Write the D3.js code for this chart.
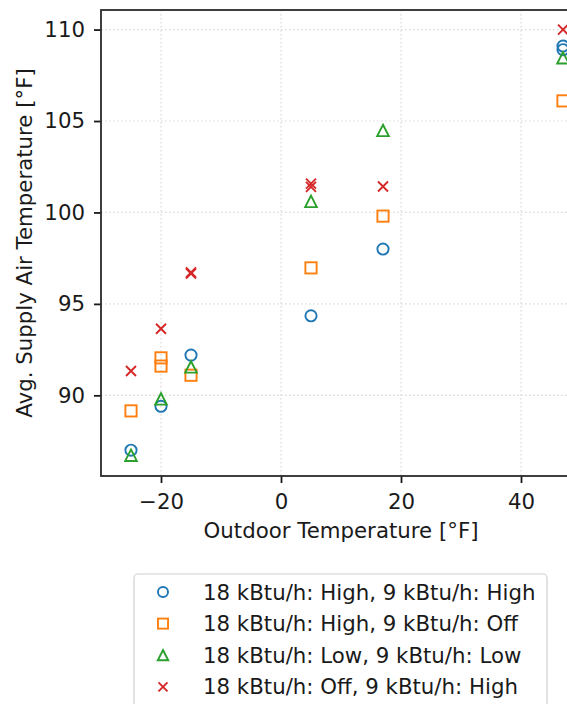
<!DOCTYPE html>
<html><head><meta charset="utf-8">
<script src="https://cdn.jsdelivr.net/npm/d3@7"></script>
<style>body{margin:0;background:#fff;overflow:hidden}svg{display:block}</style>
</head><body>
<svg id="c" width="567" height="704"></svg>
<script>
const seriesNames = [
  "18 kBtu/h: High, 9 kBtu/h: High",
  "18 kBtu/h: High, 9 kBtu/h: Off",
  "18 kBtu/h: Low, 9 kBtu/h: Low",
  "18 kBtu/h: Off, 9 kBtu/h: High"
];
const seriesColors = ["#1f77b4", "#ff7f0e", "#2ca02c", "#d62728"];
const seriesShapes = ["circle", "square", "triangle", "cross"];
const highHighX = [-25, -20, -15, 5, 17, 47, 47];
const highHighY = [87.0, 89.4, 92.2, 94.35, 98.0, 108.9, 109.1];
const highOffX = [-25, -20, -20, -15, 5, 17, 47];
const highOffY = [89.15, 92.05, 91.6, 91.1, 96.97, 99.8, 106.1];
const lowLowX = [-25, -20, -15, 5, 17, 47];
const lowLowY = [86.72, 89.8, 91.55, 100.6, 104.48, 108.45];
const offHighX = [-25, -20, -15, -15, 5, 5, 17, 47];
const offHighY = [91.33, 93.64, 96.72, 96.66, 101.58, 101.4, 101.42, 110.0];
const xTicks = [-20, 0, 20, 40];
const yTicks = [90, 95, 100, 105, 110];

(function () {
const seriesX = [highHighX, highOffX, lowLowX, offHighX];
const seriesY = [highHighY, highOffY, lowLowY, offHighY];

const svg = d3.select("#c");
const font = "DejaVu Sans, sans-serif";
const fs = 21.3;
const ink = "#1a1a1a";
const pL = 101, pR = 581, pT = 10, pB = 476;
const x = d3.scaleLinear().domain([-30, 50]).range([pL, pR]);
const y = d3.scaleLinear().domain([85.59, 111.07]).range([pB, pT]);

// grid
const g = svg.append("g");
g.selectAll(".gx").data(xTicks).join("line")
  .attr("x1", d => x(d)).attr("x2", d => x(d)).attr("y1", pT).attr("y2", pB)
  .attr("stroke", "#d8d8d8").attr("stroke-width", 1.2).attr("stroke-dasharray", "1.5,2.5");
g.selectAll(".gy").data(yTicks).join("line")
  .attr("x1", pL).attr("x2", pR).attr("y1", d => y(d)).attr("y2", d => y(d))
  .attr("stroke", "#d8d8d8").attr("stroke-width", 1.2).attr("stroke-dasharray", "1.5,2.5");

// axes
const xAxis = d3.axisBottom(x).tickValues(xTicks).tickSize(7).tickPadding(11)
  .tickFormat(d => d < 0 ? "\u2212" + Math.abs(d) : d);
const yAxis = d3.axisLeft(y).tickValues(yTicks).tickSize(7).tickPadding(9);
const ax = svg.append("g").attr("transform", `translate(0,${pB})`).call(xAxis);
const ay = svg.append("g").attr("transform", `translate(${pL},0)`).call(yAxis);
[ax, ay].forEach(a => {
  a.select(".domain").remove();
  a.selectAll(".tick line").attr("stroke", ink).attr("stroke-width", 1.8);
  a.selectAll(".tick text").attr("font-family", font).attr("font-size", fs).attr("fill", ink);
});

// spines
svg.append("rect").attr("x", pL).attr("y", pT).attr("width", pR - pL).attr("height", pB - pT)
  .attr("fill", "none").attr("stroke", "#2a2a2a").attr("stroke-width", 1.8);

// markers
function drawMarker(sel, shape, color, cx, cy, k) {
  const s = sel.append("g").attr("transform", `translate(${cx},${cy}) scale(${k})`);
  const sw = 1.9 / k;
  if (shape === "circle") s.append("circle").attr("r", 5.6).attr("fill", "none").attr("stroke", color).attr("stroke-width", sw);
  else if (shape === "square") s.append("rect").attr("x", -5.6).attr("y", -5.6).attr("width", 11.2).attr("height", 11.2).attr("fill", "none").attr("stroke", color).attr("stroke-width", sw);
  else if (shape === "triangle") s.append("path").attr("d", "M0,-5.8L5.8,5.6L-5.8,5.6Z").attr("fill", "none").attr("stroke", color).attr("stroke-width", sw).attr("stroke-linejoin", "miter");
  else s.append("path").attr("d", "M-5,-5L5,5M-5,5L5,-5").attr("stroke", color).attr("stroke-width", sw);
}
const pts = svg.append("g");
seriesX.forEach((xs, i) => {
  xs.forEach((xv, j) => drawMarker(pts, seriesShapes[i], seriesColors[i], x(xv), y(seriesY[i][j]), 1));
});

// labels
svg.append("text").attr("x", (pL + pR) / 2).attr("y", 538).attr("text-anchor", "middle")
  .attr("font-family", font).attr("font-size", fs).attr("fill", ink).text("Outdoor Temperature [°F]");
svg.append("text").attr("transform", `translate(32,${(pT + pB) / 2}) rotate(-90)`).attr("text-anchor", "middle")
  .attr("font-family", font).attr("font-size", fs).attr("fill", ink).text("Avg. Supply Air Temperature [°F]");

// legend
const lg = svg.append("g");
lg.append("rect").attr("x", 134).attr("y", 574).attr("width", 413).attr("height", 150).attr("rx", 4)
  .attr("fill", "#fff").attr("stroke", "#d0d0d0").attr("stroke-width", 1.2);
seriesNames.forEach((name, i) => {
  const ly = 592 + i * 31.6;
  drawMarker(lg, seriesShapes[i], seriesColors[i], 163, ly, 0.9);
  lg.append("text").attr("x", 203).attr("y", ly + 7.5).attr("font-family", font).attr("font-size", fs)
    .attr("fill", ink).text(name);
});
})();
</script>
</body></html>
